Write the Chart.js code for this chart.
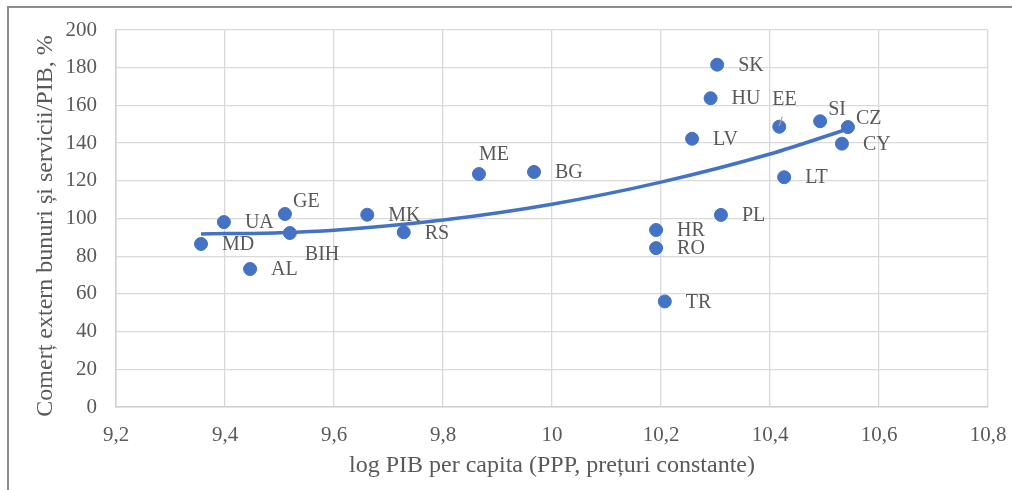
<!DOCTYPE html>
<html>
<head>
<meta charset="utf-8">
<script src="https://cdn.jsdelivr.net/npm/chart.js@4.4.1/dist/chart.umd.min.js"></script>
<style>
  html, body { margin: 0; padding: 0; background: #fff; }
  #wrap { position: relative; width: 1012px; height: 490px; }
</style>
</head>
<body>
<div id="wrap"><canvas id="chart-trade"></canvas></div>
<script>
// Country codes and values
const countries = ['MD', 'UA', 'AL', 'GE', 'BIH', 'MK', 'RS', 'ME', 'BG', 'HR', 'RO', 'TR',
  'PL', 'LV', 'SK', 'HU', 'EE', 'LT', 'SI', 'CZ', 'CY'];
const logGdp = [9.356, 9.398, 9.446, 9.510, 9.519, 9.661, 9.728, 9.866, 9.967, 10.191, 10.191, 10.207,
  10.310, 10.257, 10.303, 10.291, 10.417, 10.426, 10.492, 10.543, 10.532];
const tradeShare = [86.5, 98.1, 73.2, 102.4, 92.3, 102.0, 92.7, 123.6, 124.7, 93.9, 84.3, 56.0,
  101.9, 142.3, 181.6, 163.8, 148.7, 121.9, 151.6, 148.5, 139.7];

// Trend line (polynomial) read at a few points along the curve
const trendX = [9.356, 9.5, 9.6, 9.8, 10.0, 10.2, 10.4, 10.543];
const trendY = [91.8, 92.5, 93.8, 99.2, 107.6, 119.3, 134.2, 147.5];

const xTicks = [9.2, 9.4, 9.6, 9.8, 10.0, 10.2, 10.4, 10.6, 10.8];
const xTickLabels = ['9,2', '9,4', '9,6', '9,8', '10', '10,2', '10,4', '10,6', '10,8'];
const yTicks = [0, 20, 40, 60, 80, 100, 120, 140, 160, 180, 200];
const yTitle = 'Comerț extern bunuri și servicii/PIB, %';

const TEXT = '#595959';
const SERIF = '"Liberation Serif", "Times New Roman", serif';

// label placement: [dx, dy] from the point, text left aligned, vertically centred
const labelOffsets = {
  EE: [-7, -27], SI: [8, -11], CZ: [8, -8], ME: [0, -19], GE: [8, -12], BIH: [15, 22]
};

const pointLabels = {
  id: 'pointLabels',
  afterDatasetsDraw(chart) {
    const ctx = chart.ctx;
    const meta = chart.getDatasetMeta(0);
    ctx.save();
    ctx.font = '20px ' + SERIF;
    ctx.fillStyle = TEXT;
    ctx.textAlign = 'left';
    ctx.textBaseline = 'middle';
    meta.data.forEach((pt, i) => {
      const name = countries[i];
      const off = labelOffsets[name] || [21, 1];
      ctx.fillText(name, pt.x + off[0], pt.y + off[1]);
      if (name === 'EE') {
        // small leader line
        ctx.strokeStyle = '#a6a6a6';
        ctx.lineWidth = 1.2;
        ctx.beginPath();
        ctx.moveTo(pt.x + 3, pt.y - 10);
        ctx.lineTo(pt.x, pt.y - 1);
        ctx.stroke();
      }
    });
    ctx.restore();
  }
};

// outer frame and the rotated y title
const frame = {
  id: 'frame',
  beforeDraw(chart) {
    const ctx = chart.ctx;
    ctx.save();
    ctx.strokeStyle = '#8c8c8c';
    ctx.lineWidth = 2;
    ctx.beginPath();
    ctx.moveTo(8, 490);
    ctx.lineTo(8, 7);
    ctx.lineTo(1012, 7);
    ctx.stroke();

    ctx.translate(46, 226);
    ctx.rotate(-Math.PI / 2);
    ctx.font = '24px ' + SERIF;
    ctx.fillStyle = TEXT;
    ctx.textAlign = 'center';
    ctx.textBaseline = 'middle';
    ctx.fillText(yTitle, 0, 0);
    ctx.restore();
  }
};

new Chart(document.getElementById('chart-trade'), {
  type: 'scatter',
  data: {
    datasets: [
      {
        label: 'Țări',
        data: logGdp.map((x, i) => ({ x: x, y: tradeShare[i] })),
        backgroundColor: '#4472C4',
        borderColor: '#4472C4',
        pointRadius: 6.5,
        pointHoverRadius: 6.5
      },
      {
        label: 'Poly.',
        data: trendX.map((x, i) => ({ x: x, y: trendY[i] })),
        showLine: true,
        borderColor: '#4472C4',
        borderWidth: 3.5,
        pointRadius: 0,
        cubicInterpolationMode: 'monotone'
      }
    ]
  },
  options: {
    responsive: true,
    maintainAspectRatio: false,
    animation: false,
    layout: { padding: { top: 30, right: 24, left: 0, bottom: 0 } },
    plugins: {
      legend: { display: false },
      tooltip: { enabled: false }
    },
    scales: {
      x: {
        type: 'linear',
        min: 9.2,
        max: 10.8,
        afterBuildTicks: (scale) => { scale.ticks = xTicks.map(v => ({ value: v })); },
        afterFit: (scale) => {
          scale.height = 83;
          scale.paddingLeft = 0;
          scale.paddingRight = 0;
        },
        ticks: {
          color: TEXT,
          font: { family: SERIF, size: 21 },
          padding: 16,
          maxRotation: 0,
          callback: (v, i) => xTickLabels[i]
        },
        grid: { color: '#d9d9d9', lineWidth: 1.3, drawTicks: false },
        border: { color: '#d0d0d0', width: 1.5 },
        title: {
          display: true,
          text: 'log PIB per capita (PPP, prețuri constante)',
          color: TEXT,
          font: { family: SERIF, size: 24 },
          padding: { top: 0, bottom: 10 }
        }
      },
      y: {
        min: 0,
        max: 200,
        afterBuildTicks: (scale) => { scale.ticks = yTicks.map(v => ({ value: v })); },
        afterFit: (scale) => {
          scale.width = 116;
          scale.paddingTop = 0;
          scale.paddingBottom = 0;
        },
        ticks: {
          color: TEXT,
          font: { family: SERIF, size: 21 },
          padding: 19
        },
        grid: { color: '#d9d9d9', lineWidth: 1.3, drawTicks: false },
        border: { color: '#d0d0d0', width: 1.5 }
      }
    }
  },
  plugins: [frame, pointLabels]
});
</script>
</body>
</html>
